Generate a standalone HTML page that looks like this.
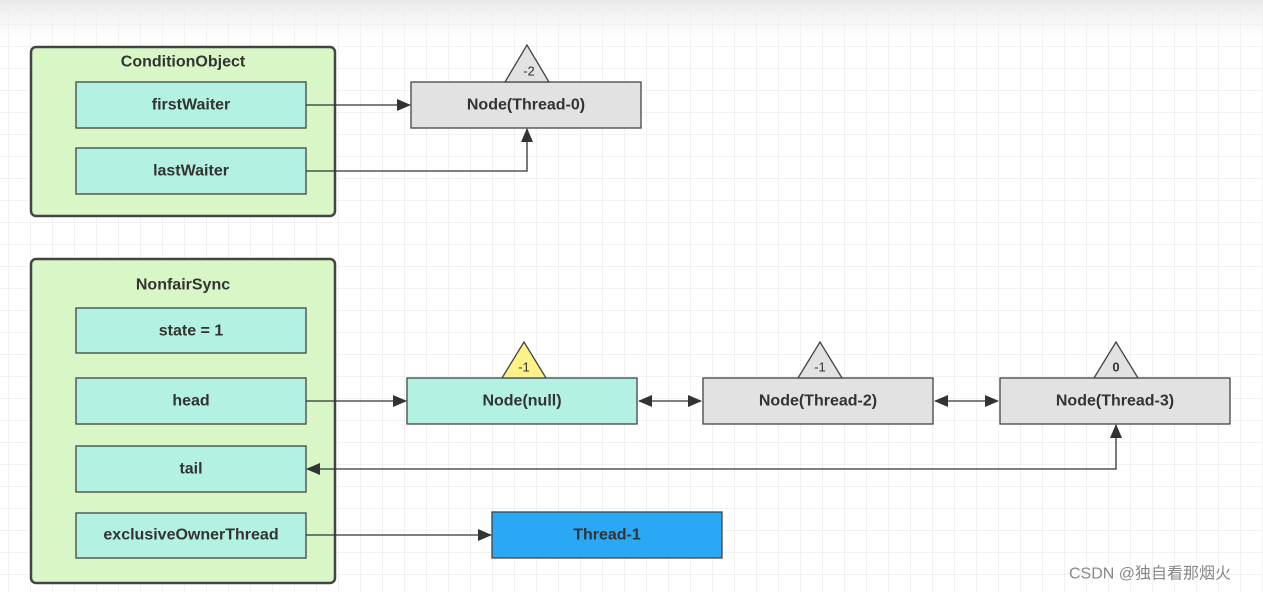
<!DOCTYPE html>
<html><head><style>
body{margin:0;width:1263px;height:592px;overflow:hidden;background:#fff}
svg{display:block}
text{font-family:"Liberation Sans","Noto Sans CJK SC",sans-serif;font-weight:bold;font-size:16px;fill:#333;text-anchor:middle;dominant-baseline:central}
</style></head><body>
<svg width="1263" height="592" xmlns="http://www.w3.org/2000/svg">
<defs>
<pattern id="g" width="22" height="22" patternUnits="userSpaceOnUse" x="9" y="3">
<path d="M22 0V22M0 22H22" stroke="#e6e6e6" stroke-width="1" fill="none"/>
</pattern>
<linearGradient id="top" x1="0" y1="0" x2="0" y2="1">
<stop offset="0" stop-color="#e8e8e8"/><stop offset="1" stop-color="#f6f6f6" stop-opacity="0"/>
</linearGradient>
<marker id="a" markerWidth="14" markerHeight="12" refX="13" refY="6" orient="auto" markerUnits="userSpaceOnUse">
<path d="M0 0L14 6L0 12z" fill="#333"/></marker>
<marker id="s" markerWidth="14" markerHeight="12" refX="1" refY="6" orient="auto" markerUnits="userSpaceOnUse">
<path d="M14 0L0 6L14 12z" fill="#333"/></marker>
</defs>
<rect width="1263" height="592" fill="url(#g)"/>
<rect width="1263" height="45" fill="url(#top)"/>
<g stroke="#444" stroke-width="1.3">
<rect x="31" y="47" width="304" height="169" rx="5" fill="#d9f7c6" stroke-width="2.5"/>
<rect x="76" y="82" width="230" height="46" fill="#b3f2e2"/>
<rect x="76" y="148" width="230" height="46" fill="#b3f2e2"/>
<rect x="411" y="82" width="230" height="46" fill="#e2e2e2"/>
<path d="M505 82L527 45L549 82z" fill="#e2e2e2"/>
<rect x="31" y="259" width="304" height="324" rx="5" fill="#d9f7c6" stroke-width="2.5"/>
<rect x="76" y="308" width="230" height="45" fill="#b3f2e2"/>
<rect x="76" y="378" width="230" height="46" fill="#b3f2e2"/>
<rect x="76" y="446" width="230" height="46" fill="#b3f2e2"/>
<rect x="76" y="513" width="230" height="45" fill="#b3f2e2"/>
<rect x="407" y="378" width="230" height="46" fill="#b3f2e2"/>
<path d="M502 378L524 342L546 378z" fill="#fdf28a"/>
<rect x="703" y="378" width="230" height="46" fill="#e2e2e2"/>
<path d="M798 378L820 342L842 378z" fill="#e2e2e2"/>
<rect x="1000" y="378" width="230" height="46" fill="#e2e2e2"/>
<path d="M1094 378L1116 342L1138 378z" fill="#e2e2e2"/>
<rect x="492" y="512" width="230" height="46" fill="#2aa8f5"/>
</g>
<g stroke="#333" stroke-width="1.3" fill="none">
<path d="M306 105H410" marker-end="url(#a)"/>
<path d="M306 171H527V129" marker-end="url(#a)"/>
<path d="M306 401H406" marker-end="url(#a)"/>
<path d="M639 401H701" marker-start="url(#s)" marker-end="url(#a)"/>
<path d="M935 401H998" marker-start="url(#s)" marker-end="url(#a)"/>
<path d="M1116 425V469H307" marker-start="url(#s)" marker-end="url(#a)"/>
<path d="M306 535H491" marker-end="url(#a)"/>
</g>
<text x="183" y="62">ConditionObject</text>
<text x="191" y="105">firstWaiter</text>
<text x="191" y="171">lastWaiter</text>
<text x="526" y="105">Node(Thread-0)</text>
<text x="529" y="71" style="font-size:13px;font-weight:normal">-2</text>
<text x="183" y="285">NonfairSync</text>
<text x="191" y="331">state = 1</text>
<text x="191" y="401">head</text>
<text x="191" y="469">tail</text>
<text x="191" y="535">exclusiveOwnerThread</text>
<text x="522" y="401">Node(null)</text>
<text x="524" y="367" style="font-size:13px;font-weight:normal">-1</text>
<text x="818" y="401">Node(Thread-2)</text>
<text x="820" y="367" style="font-size:13px;font-weight:normal">-1</text>
<text x="1115" y="401">Node(Thread-3)</text>
<text x="1116" y="367" style="font-size:13px">0</text>
<text x="607" y="535">Thread-1</text>
<text x="1150" y="574" style="font-weight:normal;fill:#888;font-size:16px">CSDN @独自看那烟火</text>
</svg>
</body></html>
